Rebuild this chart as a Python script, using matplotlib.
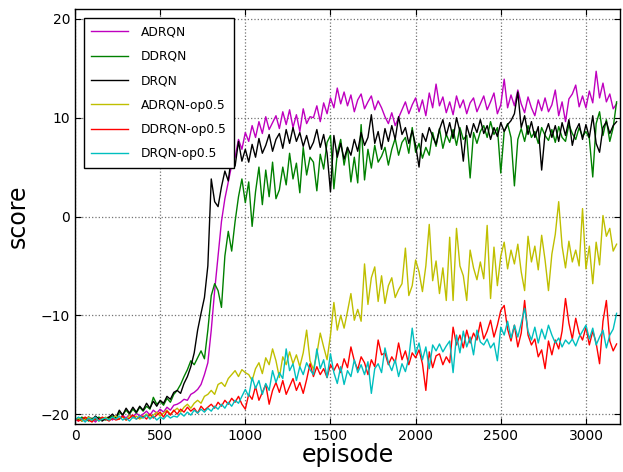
import numpy as np
import matplotlib
matplotlib.use("Agg")
import matplotlib.pyplot as plt

episodes = np.arange(0, 3200, 20)

adrqn = [
    -20.5, -20.7, -20.4, -20.6, -20.3, -20.5, -20.8, -20.4, -20.6, -20.5,
    -20.3, -20.6, -20.2, -20.5, -20.1, -20.4, -20.0, -20.3, -19.9, -20.2,
    -20.0, -19.7, -20.1, -19.6, -19.9, -19.5, -19.8, -19.3, -19.6, -19.1,
    -19.0, -18.8, -18.5, -18.6, -18.0, -17.8, -17.5, -17.0, -16.0, -14.8,
    -11.5, -7.5, -4.0, -0.5, 1.8, 3.5, 5.2, 6.0, 7.8, 6.8,
    8.5, 7.6, 9.2, 8.0, 9.6, 8.4, 10.1, 8.8, 9.5, 10.2,
    8.9, 10.6, 9.3, 10.8, 9.0, 10.3, 8.6, 10.9, 9.4, 10.1,
    10.0, 11.2, 9.6, 11.5, 10.4, 12.0, 11.0, 13.0, 11.4, 12.6,
    11.2, 12.3, 10.6, 11.8, 12.4, 10.9, 11.6, 12.2, 10.8, 11.7,
    11.0, 10.1, 9.4, 10.5, 9.2, 10.0, 10.8, 11.6, 10.4, 11.3,
    12.0, 10.6, 11.8, 10.2, 12.5, 11.0, 13.4, 11.2, 12.1, 10.5,
    11.6, 10.3, 12.2, 11.0, 11.8, 10.4, 11.5, 12.0, 10.6, 11.4,
    12.2, 10.8, 11.6, 12.5, 10.4, 11.3, 13.9, 11.0, 12.3, 11.2,
    12.8, 11.4, 10.5, 12.1, 11.0, 10.2, 11.8, 10.7, 12.0, 10.6,
    11.3, 12.8, 10.2, 11.6, 9.6, 11.9, 12.4, 13.3, 11.1, 12.2,
    11.0, 12.7, 11.5, 14.7, 12.0, 13.5, 11.6, 12.4, 10.9, 11.4,
]

ddrqn = [
    -20.4, -20.6, -20.3, -20.5, -20.7, -20.4, -20.6, -20.3, -20.5, -20.6,
    -20.4, -20.2, -20.5, -19.8, -20.1, -19.6, -20.0, -19.5, -19.9, -19.3,
    -19.7, -19.2, -19.5, -18.3, -19.0, -18.7, -19.1, -18.4, -18.8, -18.0,
    -17.6, -17.0, -16.2, -15.5, -14.6, -15.0, -14.3, -13.6, -14.4, -11.5,
    -8.0, -6.8, -7.5, -9.2, -4.0, -1.5, -3.5, -0.5, 2.0, 3.8,
    1.4, 3.5, -1.0, 2.5, 5.0, 1.2, 4.7, 2.0, 5.5, 1.8,
    2.7, 5.0, 3.2, 6.4, 3.8, 5.4, 2.4, 7.0, 4.2, 6.0,
    5.5, 2.6, 6.3, 4.8, 7.5, 8.2, 2.8, 6.4, 7.8, 5.2,
    7.0, 3.5, 6.0, 3.4, 9.3, 3.7, 6.8, 4.9, 7.2, 5.5,
    6.1, 7.0, 5.2, 6.8, 7.9, 6.2, 7.5, 8.0, 6.4, 9.0,
    6.5, 7.4, 5.9, 7.0, 6.2, 8.5, 7.1, 8.9, 6.9, 8.3,
    7.5, 8.8, 7.2, 9.0, 7.8, 8.2, 3.9, 8.5, 7.4, 8.6,
    9.2, 8.0, 9.6, 8.3, 9.0, 4.4, 8.6, 9.4, 8.0, 3.1,
    7.8, 8.9, 7.6, 9.2, 8.0, 8.6, 7.4, 9.0, 8.2, 7.7,
    8.8, 7.5, 9.1, 8.0, 7.6, 9.3, 8.4, 7.8, 9.0, 8.1,
    8.6, 7.9, 4.0, 9.4, 10.6, 8.2, 9.8, 7.6, 9.0, 11.6,
]

drqn = [
    -20.6, -20.4, -20.7, -20.5, -20.3, -20.6, -20.2, -20.5, -20.7, -20.4,
    -20.3, -20.0, -20.4, -19.6, -20.1, -19.4, -19.9, -19.3, -19.8, -19.2,
    -19.6, -18.9, -19.4, -18.7, -19.2, -18.6, -18.9, -18.2, -18.5, -17.8,
    -17.6, -17.9, -16.9, -16.2, -15.2, -13.8, -11.5, -9.8, -8.2, -5.0,
    3.8, 1.5, 1.0, 3.0, 4.6, 3.6, 6.3, 5.1, 7.6, 5.6,
    6.8, 5.5, 7.3, 6.0, 7.9, 6.4, 7.2, 8.3, 6.6, 7.8,
    8.4, 6.9, 8.8, 7.4, 9.0, 7.6, 8.5, 7.1, 8.2, 6.8,
    7.5, 8.8, 7.0, 8.3, 6.4, 2.5, 8.2, 6.0, 7.4, 5.8,
    7.0, 6.2, 7.8, 6.6, 8.5, 7.2, 8.0, 10.3, 7.4, 8.6,
    6.8, 8.9, 7.6, 9.2, 7.8, 10.1, 8.3, 9.0, 7.4, 8.7,
    7.2, 5.0, 8.4, 7.6, 9.0, 8.1, 7.3, 8.8, 9.8, 8.2,
    9.5, 7.9, 10.0, 8.6, 5.6, 9.2, 8.0, 9.4, 8.5, 9.8,
    8.4, 9.2, 7.8, 9.0, 8.1, 9.5, 8.6, 9.3, 9.7, 10.4,
    12.6, 9.0, 10.2, 8.3, 9.6, 8.0, 9.1, 4.7, 8.4, 9.4,
    8.0, 9.2, 7.6, 9.5, 8.2, 9.8, 7.2, 8.7, 9.4, 7.8,
    9.3, 8.0, 10.2, 7.4, 6.5, 9.0, 9.6, 8.4, 9.2, 9.6,
]

adrqn_op = [
    -20.6, -20.4, -20.7, -20.5, -20.3, -20.6, -20.4, -20.7, -20.5, -20.3,
    -20.6, -20.4, -20.2, -20.5, -20.3, -20.6, -20.1, -20.4, -20.2, -20.5,
    -20.3, -20.0, -20.4, -20.1, -19.8, -20.2, -19.9, -19.6, -20.0, -19.7,
    -19.4, -19.8, -19.3, -19.0, -19.4, -18.9, -18.6, -18.9, -18.2, -18.0,
    -17.6, -18.0, -17.0, -16.8, -17.2, -16.4, -16.0, -15.6, -16.2, -15.5,
    -15.8, -16.0, -16.6, -15.4, -14.8, -15.9, -14.3, -15.0, -13.4, -14.6,
    -16.3, -14.2, -15.0, -13.7, -14.9, -14.0, -15.2, -13.8, -11.5, -14.6,
    -15.5, -13.9, -11.8, -13.2, -14.5, -12.0, -8.7, -11.5, -10.0, -11.3,
    -9.6, -7.8, -10.5, -9.4, -10.6, -4.8, -8.9, -6.2, -5.1, -8.6,
    -6.0, -8.8, -7.0, -6.2, -8.2, -7.4, -6.8, -3.2, -8.0, -7.0,
    -4.4, -5.6, -7.6, -5.0, -0.8, -6.5, -4.5, -7.8, -5.2, -8.5,
    -2.1, -8.5, -1.2, -5.0, -6.0, -8.5, -3.4, -5.2, -6.4, -4.6,
    -6.3, -0.9, -8.3, -3.1, -7.0, -4.0, -2.6, -5.3, -3.4, -4.8,
    -2.8, -5.6, -7.5, -2.0, -4.6, -3.0, -5.4, -1.9, -4.4, -7.5,
    -3.8, -1.8, 1.5, -3.0, -5.2, -2.5, -4.6, -3.4, -5.0, 0.8,
    -5.3, -3.0, -6.8, -2.6, -4.9, 0.1, -2.0, -1.2, -3.5, -2.8,
]

ddrqn_op = [
    -20.4, -20.7, -20.5, -20.3, -20.6, -20.8, -20.4, -20.6, -20.3, -20.5,
    -20.7, -20.4, -20.6, -20.5, -20.2, -20.6, -20.4, -20.1, -20.5, -20.3,
    -20.2, -20.5, -20.0, -20.4, -20.1, -19.8, -20.3, -19.7, -20.1, -19.6,
    -20.0, -19.5, -19.8, -19.3, -19.7, -19.4, -19.9, -19.2, -19.6, -19.3,
    -19.0, -19.4, -18.8, -19.2, -18.6, -19.0, -18.4, -18.8, -18.2, -19.0,
    -19.5, -18.0, -18.5, -17.2, -18.6, -17.8, -17.0, -19.0, -17.6, -16.8,
    -17.8, -16.6, -18.0, -17.2, -16.4, -17.6, -16.8, -17.9, -16.5, -14.9,
    -16.2, -15.2, -16.0, -15.4, -16.3, -15.0, -15.6, -14.9, -15.8, -14.4,
    -15.3, -13.2, -14.6, -15.5, -14.2, -14.8, -16.0, -14.5, -15.2, -12.5,
    -14.0, -13.8, -15.0, -14.2, -14.8, -12.8, -14.5, -13.6, -15.0, -13.8,
    -14.3, -13.5, -14.9, -17.6, -13.7, -15.3, -14.1, -13.9, -15.0, -14.2,
    -14.8, -11.2, -13.0, -12.0, -13.3, -11.5, -12.8, -11.8, -12.5, -10.7,
    -12.4, -11.6, -10.5, -12.2, -11.0, -9.5, -9.0, -11.4, -12.6, -11.0,
    -13.2, -11.8, -8.5, -12.0, -13.0, -12.4, -14.2, -13.5, -15.4, -12.6,
    -14.0, -12.5, -13.4, -11.6, -8.3, -10.8, -12.4, -10.3, -11.8, -12.5,
    -11.2, -13.0, -11.6, -12.8, -14.9, -10.6, -8.5, -12.6, -13.6, -12.9,
]

drqn_op = [
    -20.6, -20.3, -20.5, -20.8, -20.4, -20.6, -20.3, -20.7, -20.5, -20.4,
    -20.6, -20.3, -20.5, -20.2, -20.6, -20.4, -20.7, -20.3, -20.5, -20.2,
    -20.4, -20.1, -20.5, -20.2, -20.6, -20.3, -20.5, -20.1, -20.4, -20.2,
    -20.3, -19.9, -20.2, -19.8, -20.1, -19.6, -19.9, -19.5, -19.8, -19.4,
    -19.7, -19.2, -19.5, -19.0, -19.4, -18.8, -19.2, -18.6, -18.9, -18.2,
    -17.5, -18.2, -16.3, -17.4, -16.6, -18.0, -16.9, -17.6, -15.6, -16.8,
    -15.8, -16.4, -13.4, -15.6, -14.9, -16.6, -15.2, -16.0, -14.8, -15.5,
    -16.0, -13.4, -15.4, -14.5, -16.3, -13.9, -15.8, -16.9, -15.2, -17.0,
    -15.6, -16.2, -14.5, -15.8, -15.0, -16.0, -14.7, -17.9, -15.4, -14.9,
    -15.8, -13.3, -14.8, -15.6, -14.5, -16.2, -14.9, -15.7, -14.3, -11.3,
    -13.9, -12.8, -14.5, -13.2, -15.4, -13.0, -13.6, -12.9, -13.7, -13.1,
    -12.6, -15.8, -12.0, -13.8, -11.6, -13.2, -12.2, -14.0, -11.5, -12.7,
    -13.0, -12.4, -13.3, -12.8, -14.6, -11.2, -12.0, -10.6, -12.3, -11.0,
    -12.2, -10.8, -9.3, -11.6, -12.5, -11.2, -12.8, -11.4, -12.4, -11.0,
    -12.0, -12.8, -12.3, -13.2, -12.5, -12.9, -12.4, -13.1, -12.2, -11.6,
    -11.0, -12.4, -11.3, -13.0, -12.2, -11.5, -13.3, -12.0, -11.4, -9.8,
]

series = [
    ("ADRQN", adrqn, (0.75, 0.0, 0.75)),
    ("DDRQN", ddrqn, (0.0, 0.5, 0.0)),
    ("DRQN", drqn, (0.0, 0.0, 0.0)),
    ("ADRQN-op0.5", adrqn_op, (0.75, 0.75, 0.0)),
    ("DDRQN-op0.5", ddrqn_op, (1.0, 0.0, 0.0)),
    ("DRQN-op0.5", drqn_op, (0.0, 0.75, 0.75)),
]

fig = plt.figure(figsize=(6.23, 4.72), dpi=100)
ax = fig.add_axes([75 / 623, 48 / 472, 545 / 623, 415 / 472])

for label, vals, col in series:
    ax.plot(episodes, vals, color=col, lw=1.0, label=label)

ax.set_xlim(0, 3200)
ax.set_ylim(-21, 21)
ax.set_xticks([0, 500, 1000, 1500, 2000, 2500, 3000])
ax.set_yticks([-20, -10, 0, 10, 20])
ax.tick_params(direction="in", top=True, right=True, labelsize=10, length=4)
ax.grid(True, linestyle=":", color="0.45", lw=0.9)
for sp in ax.spines.values():
    sp.set_linewidth(1.0)
ax.set_xlabel("episode", fontsize=17, labelpad=0)
ax.set_ylabel("score", fontsize=17, labelpad=8)

leg = ax.legend(loc="upper left", bbox_to_anchor=(8.5 / 545, 1 - 9 / 415),
                borderaxespad=0, fontsize=8.8, fancybox=False, framealpha=1,
                edgecolor="black", handlelength=3.0, handletextpad=1.05,
                labelspacing=0.93, borderpad=0.62)
leg.get_frame().set_linewidth(1.0)

fig.savefig("out.png", dpi=100)
